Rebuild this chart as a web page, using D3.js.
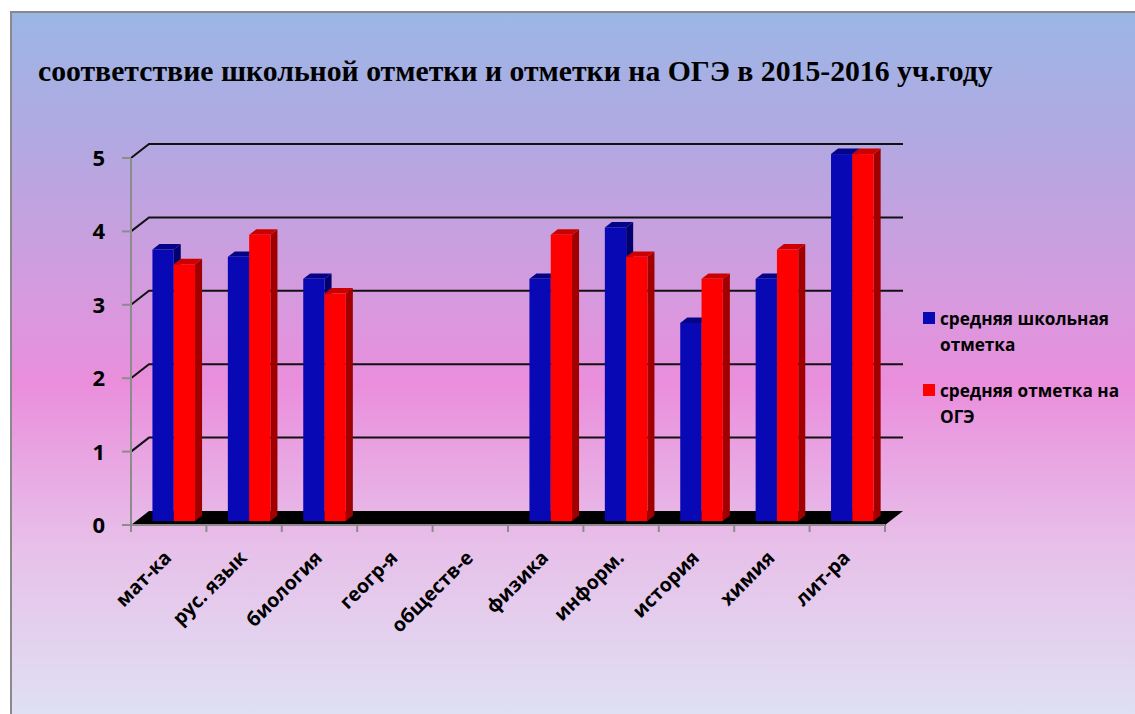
<!DOCTYPE html>
<html>
<head>
<meta charset="utf-8">
<script src="https://cdn.jsdelivr.net/npm/d3@7"></script>
<style>
  body { margin: 0; background: #fff; }
  svg { display: block; }
</style>
</head>
<body>
<div id="chart"></div>
<script>
// data
const categories = ["мат-ка", "рус. язык", "биология", "геогр-я", "обществ-е", "физика", "информ.", "история", "химия", "лит-ра"];
const schoolMarks = [3.7, 3.6, 3.3, null, null, 3.3, 4.0, 2.7, 3.3, 5.0];
const ogeMarks = [3.5, 3.9, 3.1, null, null, 3.9, 3.6, 3.3, 3.7, 5.0];
const seriesNames = ["средняя школьная отметка", "средняя отметка на ОГЭ"];
const yTicks = [0, 1, 2, 3, 4, 5];

const W = 1135, H = 714;
const depth = {dx: 18, dy: -14};     // 3d wall depth
const barDepth = {f0: 0.28, f1: 0.67}; // bars sit between these fractions of depth

const svg = d3.select("#chart").append("svg")
  .attr("width", W)
  .attr("height", H);

// background gradient
const defs = svg.append("defs");
const grad = defs.append("linearGradient")
  .attr("id", "bg")
  .attr("x1", 0).attr("y1", 0).attr("x2", 0).attr("y2", 1);
[["0%", "#9bb6e5"], ["20%", "#b5a7e1"], ["40%", "#d69ade"], ["52%", "#ea8edc"], ["75%", "#e7c0e9"], ["100%", "#dfe2f4"]]
  .forEach(s => grad.append("stop").attr("offset", s[0]).attr("stop-color", s[1]));

svg.append("rect")
  .attr("x", 11).attr("y", 12)
  .attr("width", W).attr("height", H)
  .attr("fill", "url(#bg)")
  .attr("stroke", "#8a8a8a")
  .attr("stroke-width", 2);

// title, fitted to the width it has in the original
const title = svg.append("text")
  .attr("x", 0)
  .attr("y", 0)
  .style("font-family", "'Liberation Serif', 'Times New Roman', serif")
  .style("font-weight", "bold")
  .style("font-size", "29px")
  .text("соответствие школьной отметки и отметки на ОГЭ в 2015-2016 уч.году");
const titleLen = title.node().getComputedTextLength();
title.attr("transform", `translate(38,81) scale(${titleLen > 0 ? 955 / titleLen : 1},1)`);

// scales
const x = d3.scaleBand()
  .domain(categories)
  .range([131, 885])
  .paddingInner(0)
  .paddingOuter(0);

const xs = d3.scaleBand()
  .domain([0, 1])
  .range([0, x.bandwidth()])
  .paddingOuter(0.77)
  .paddingInner(0);

const y = d3.scaleLinear()
  .domain([0, 5])
  .range([525, 158]);

// gridlines: diagonal on the side wall + horizontal on back wall
const grid = svg.append("g");
yTicks.filter(v => v > 0).forEach(v => {
  grid.append("path")
    .attr("d", `M${x.range()[0]},${y(v)} L${x.range()[0] + depth.dx},${y(v) + depth.dy} L${x.range()[1] + depth.dx},${y(v) + depth.dy}`)
    .attr("fill", "none")
    .attr("stroke", "#111")
    .attr("stroke-width", 2);
});

// floor
const x0 = x.range()[0], x1 = x.range()[1];
svg.append("path")
  .attr("d", `M${x0},${y(0)} L${x1},${y(0)} L${x1 + depth.dx},${y(0) + depth.dy} L${x0 + depth.dx},${y(0) + depth.dy} Z`)
  .attr("fill", "#000");

// axes
const axisColor = "#8c8c8c";
svg.append("line")
  .attr("x1", x0).attr("x2", x0)
  .attr("y1", y(0)).attr("y2", y(5))
  .attr("stroke", axisColor).attr("stroke-width", 2);
svg.append("line")
  .attr("x1", x0).attr("x2", x1)
  .attr("y1", y(0)).attr("y2", y(0))
  .attr("stroke", axisColor).attr("stroke-width", 2);

svg.selectAll(".ytick")
  .data(yTicks)
  .enter()
  .append("line")
    .attr("x1", x0 - 9).attr("x2", x0)
    .attr("y1", d => y(d)).attr("y2", d => y(d))
    .attr("stroke", axisColor).attr("stroke-width", 2);

svg.selectAll(".ylabel")
  .data(yTicks)
  .enter()
  .append("text")
    .attr("x", 105)
    .attr("y", d => y(d))
    .attr("dy", "0.36em")
    .attr("text-anchor", "end")
    .style("font-family", "'Open Sans', sans-serif")
    .style("font-weight", "bold")
    .style("font-size", "22px")
    .text(d => d);

const bounds = categories.map(c => x(c)).concat([x1]);
svg.selectAll(".xtick")
  .data(bounds)
  .enter()
  .append("line")
    .attr("x1", d => d).attr("x2", d => d)
    .attr("y1", y(0)).attr("y2", y(0) + 7)
    .attr("stroke", axisColor).attr("stroke-width", 2);

svg.selectAll(".xlabel")
  .data(categories)
  .enter()
  .append("text")
    .attr("transform", d => `translate(${x(d) + x.bandwidth() / 2 + 4},${y(0) + 34}) rotate(-45)`)
    .attr("text-anchor", "end")
    .style("font-family", "'Open Sans', sans-serif")
    .style("font-weight", "bold")
    .style("font-size", "19.5px")
    .text(d => d);

// 3d bars
const colors = [
  {front: "#0808b4", top: "#040488", side: "#00006e"},
  {front: "#ff0000", top: "#cc0000", side: "#a00000"}
];
const bdx0 = depth.dx * barDepth.f0, bdy0 = depth.dy * barDepth.f0;
const bdx = depth.dx * (barDepth.f1 - barDepth.f0), bdy = depth.dy * (barDepth.f1 - barDepth.f0);

const barData = [];
categories.forEach((c, i) => {
  [schoolMarks[i], ogeMarks[i]].forEach((v, s) => {
    if (v != null) barData.push({cat: c, s: s, v: v});
  });
});

const bars = svg.append("g").selectAll("g")
  .data(barData)
  .enter()
  .append("g");

bars.each(function(d) {
  const g = d3.select(this);
  const bx = x(d.cat) + xs(d.s) + bdx0;
  const bw = xs.bandwidth();
  const top = y(d.v) + bdy0;
  const bottom = y(0) + bdy0;
  const c = colors[d.s];
  // side face
  g.append("path")
    .attr("d", `M${bx + bw},${top} L${bx + bw + bdx},${top + bdy} L${bx + bw + bdx},${bottom + bdy} L${bx + bw},${bottom} Z`)
    .attr("fill", c.side);
  // top face
  g.append("path")
    .attr("d", `M${bx},${top} L${bx + bdx},${top + bdy} L${bx + bw + bdx},${top + bdy} L${bx + bw},${top} Z`)
    .attr("fill", c.top);
  // front face
  g.append("rect")
    .attr("x", bx)
    .attr("y", top)
    .attr("width", bw)
    .attr("height", bottom - top)
    .attr("fill", c.front);
});

// legend
const legendLines = [["средняя школьная", "отметка"], ["средняя отметка на", "ОГЭ"]];
const legend = svg.append("g");
const legendItems = legend.selectAll("g")
  .data(legendLines)
  .enter()
  .append("g")
    .attr("transform", (d, i) => `translate(923, ${312 + i * 72})`);

legendItems.append("rect")
  .attr("width", 12)
  .attr("height", 12)
  .attr("fill", (d, i) => colors[i].front);

legendItems.append("text")
  .attr("x", 17)
  .attr("y", 13)
  .style("font-family", "'Open Sans', sans-serif")
  .style("font-weight", "bold")
  .style("font-size", "17.2px")
  .selectAll("tspan")
  .data(d => d)
  .enter()
  .append("tspan")
    .attr("x", 17)
    .attr("dy", (d, i) => i === 0 ? 0 : 25.5)
    .text(d => d);
</script>
</body>
</html>
